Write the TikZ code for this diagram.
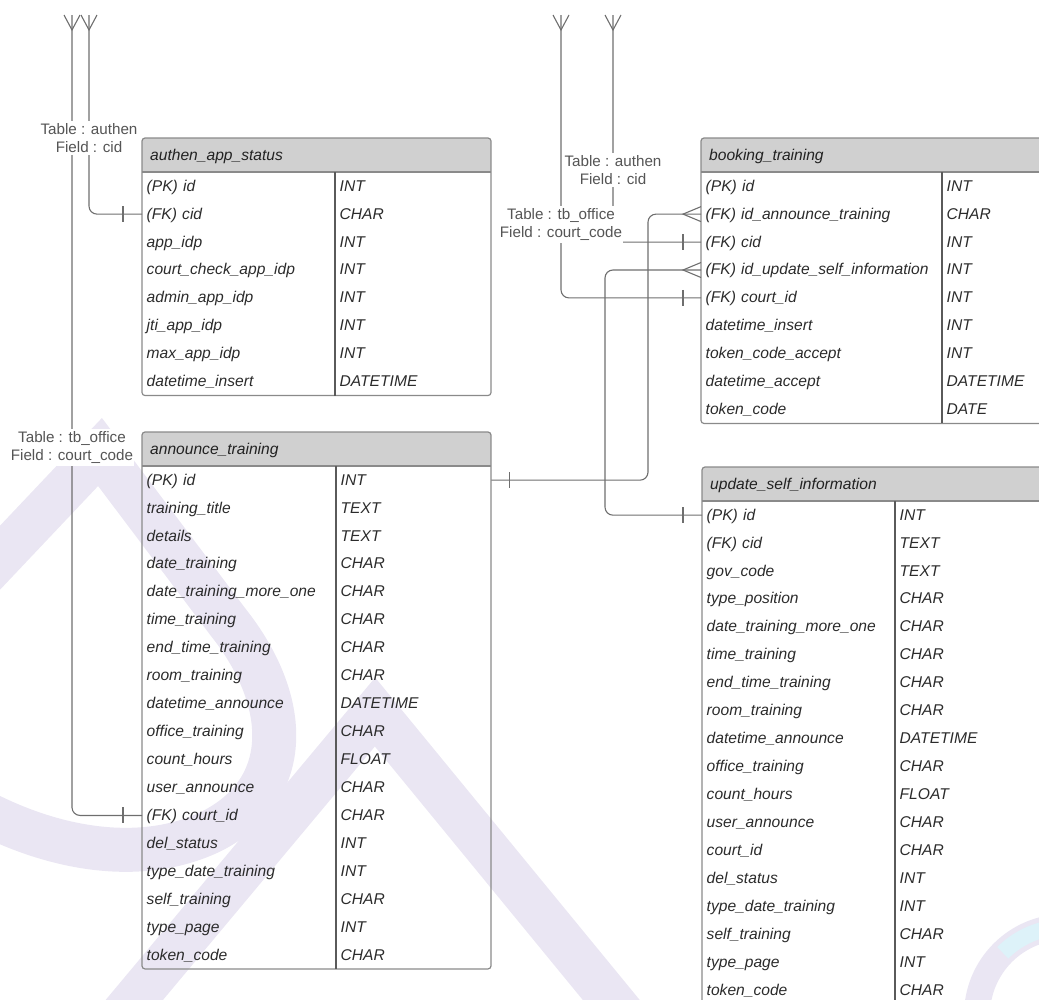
\documentclass[tikz,border=0pt]{standalone}
\usepackage{fontspec}
\setmainfont{Liberation Sans}

\definecolor{connc}{HTML}{6E6E6E}
\definecolor{borderc}{HTML}{8A8A8A}
\definecolor{divc}{HTML}{5A5A5A}
\definecolor{hdrfill}{HTML}{D0D0D0}
\definecolor{hdrtxt}{HTML}{222222}
\definecolor{celltxt}{HTML}{2B2B2B}
\definecolor{lbltxt}{HTML}{555555}
\definecolor{wmc}{HTML}{EAE6F3}
\definecolor{wmcyan}{HTML}{DDF2F9}

% row and header heights of the entity tables
\def\rowh{27.94}
\def\hdrh{34}

% #1 name prefix, #2 left, #3 top, #4 right, #5 column divider,
% #6 number of rows, #7 table title, #8 field/type list
\newcommand{\ertable}[8]{%
  \pgfmathsetmacro\erbot{#3+\hdrh+#6*\rowh}%
  \pgfmathsetmacro\erhb{#3+\hdrh}%
  \begin{scope}
    \clip[rounded corners=3pt] (#2,#3) rectangle (#4,\erbot);
    \fill[hdrfill] (#2,#3) rectangle (#4,\erhb);
  \end{scope}
  \draw[tblborder, rounded corners=3pt] (#2,#3) rectangle (#4,\erbot);
  \draw[tblborder] (#2,\erhb) -- (#4,\erhb);
  \draw[divline] (#5,\erhb) -- (#5,\erbot);
  \node[hdrtext, anchor=base west] (#1-h) at (#2+8,#3+22.5) {#7};
  \pgfmathsetmacro\erfw{#5-#2-9}%
  \pgfmathsetmacro\ertw{#4-#5-9}%
  \foreach[count=\i] \f/\t in {#8} {
    \pgfmathsetmacro\yy{\erhb+(\i-1)*\rowh}
    \node[cell, text width=\erfw pt, anchor=north west] (#1-\i) at (#2,\yy) {\f};
    \node[cell, text width=\ertw pt, anchor=north west] (#1-\i-t) at (#5,\yy) {\t};
  }
}

% crow's foot opening upwards at a free end
\newcommand\footup[1]{\draw[tip] ([shift={(-8,0)}]#1) -- ([shift={(0,15)}]#1) -- ([shift={(8,0)}]#1);}
% crow's foot opening onto a table's left side
\newcommand\footleft[1]{\draw[tip] ([shift={(0,-7.5)}]#1) -- ([shift={(-18,0)}]#1) -- ([shift={(0,7.5)}]#1);}
% "one" bar across a connector, #2 = horizontal offset from the anchor
\newcommand\onebar[2]{\draw[tip] ([shift={(#2,-8)}]#1) -- ([shift={(#2,8)}]#1);}

\begin{document}
\begin{tikzpicture}[x=1pt,y=-1pt,
  conn/.style={draw=connc, line width=1.1pt, rounded corners=8pt},
  tip/.style={draw=connc, line width=1.1pt},
  tblborder/.style={draw=borderc, line width=1.2pt},
  divline/.style={draw=divc, line width=1.1pt},
  hdrtext/.style={inner sep=0pt, text=hdrtxt, font=\fontsize{15.6}{18}\selectfont\itshape},
  cell/.style={inner xsep=4.5pt, inner ysep=0pt, minimum height=\rowh pt,
    text height=13pt, text depth=3pt, align=left, text=celltxt,
    font=\fontsize{15.6}{18}\selectfont\itshape},
  lbl/.style={fill=white, inner xsep=1pt, inner ysep=2pt, align=center,
    text=lbltxt, font=\fontsize{15.2}{18.5}\selectfont},
  wm/.style={draw=wmc, line join=miter, line cap=butt},
]
\useasboundingbox (0,0) rectangle (1039,999);
\clip (0,0) rectangle (1039,999);

% faint logo watermark in the background
\draw[wm, line width=44] (-40,600) -- (100,452) -- (228,622)
  .. controls (290,700) and (295,790) .. (210,832)
  .. controls (140,865) and (50,850) .. (-30,805);
\draw[wm, line width=44] (105,1035) -- (375,712) -- (640,1035);
\draw[wm, line width=26] (1065,1015) circle (88);
\draw[draw=wmcyan, line width=16] (1065,1015) ++(225:88) arc (225:262:88);

% entity tables
\ertable{auth}{142}{138}{491}{335}{8}{authen\_app\_status}{%
  (PK) id/INT, (FK) cid/CHAR, app\_idp/INT, court\_check\_app\_idp/INT,
  admin\_app\_idp/INT, jti\_app\_idp/INT, max\_app\_idp/INT, datetime\_insert/DATETIME}

\ertable{ann}{142}{432}{491}{336}{18}{announce\_training}{%
  (PK) id/INT, training\_title/TEXT, details/TEXT, date\_training/CHAR,
  date\_training\_more\_one/CHAR, time\_training/CHAR, end\_time\_training/CHAR,
  room\_training/CHAR, datetime\_announce/DATETIME, office\_training/CHAR,
  count\_hours/FLOAT, user\_announce/CHAR, (FK) court\_id/CHAR, del\_status/INT,
  type\_date\_training/INT, self\_training/CHAR, type\_page/INT, token\_code/CHAR}

\ertable{bt}{701}{138}{1060}{942}{9}{booking\_training}{%
  (PK) id/INT, (FK) id\_announce\_training/CHAR, (FK) cid/INT,
  (FK) id\_update\_self\_information/INT, (FK) court\_id/INT, datetime\_insert/INT,
  token\_code\_accept/INT, datetime\_accept/DATETIME, token\_code/DATE}

\ertable{us}{702}{467}{1060}{895}{18}{update\_self\_information}{%
  (PK) id/INT, (FK) cid/TEXT, gov\_code/TEXT, type\_position/CHAR,
  date\_training\_more\_one/CHAR, time\_training/CHAR, end\_time\_training/CHAR,
  room\_training/CHAR, datetime\_announce/DATETIME, office\_training/CHAR,
  count\_hours/FLOAT, user\_announce/CHAR, court\_id/CHAR, del\_status/INT,
  type\_date\_training/INT, self\_training/CHAR, type\_page/INT, token\_code/CHAR}

% free ends of the references to outside tables, and routing points
\coordinate (ftL1) at (72,15);
\coordinate (ftL2) at (89,15);
\coordinate (ftR1) at (561,15);
\coordinate (ftR2) at (613,15);
\coordinate (jA) at (648,350);
\coordinate (jB) at (605,400);

% relationships
\draw[conn] (ftL2) |- (auth-2.west);
\footup{ftL2}
\onebar{auth-2.west}{-19}

\draw[conn] (ftL1) |- (ann-13.west);
\footup{ftL1}
\onebar{ann-13.west}{-19}

\draw[conn] (ftR2) |- (bt-3.west);
\footup{ftR2}
\onebar{bt-3.west}{-18}

\draw[conn] (ftR1) |- (bt-5.west);
\footup{ftR1}
\onebar{bt-5.west}{-18}

\draw[conn] (ann-1-t.east) -| (jA) |- (bt-2.west);
\onebar{ann-1-t.east}{18}
\footleft{bt-2.west}

\draw[conn] (us-1.west) -| (jB) |- (bt-4.west);
\onebar{us-1.west}{-19}
\footleft{bt-4.west}

% reference labels
\node[lbl] (labL1) at (89,138) {Table : authen\\Field : cid};
\node[lbl] (labL2) at (72,447.5) {Table : tb\_office\\Field : court\_code};
\node[lbl] (labR1) at (613,170) {Table : authen\\Field : cid};
\node[lbl] (labR2) at (561,224.5) {Table : tb\_office\\Field : court\_code};
\end{tikzpicture}
\end{document}
